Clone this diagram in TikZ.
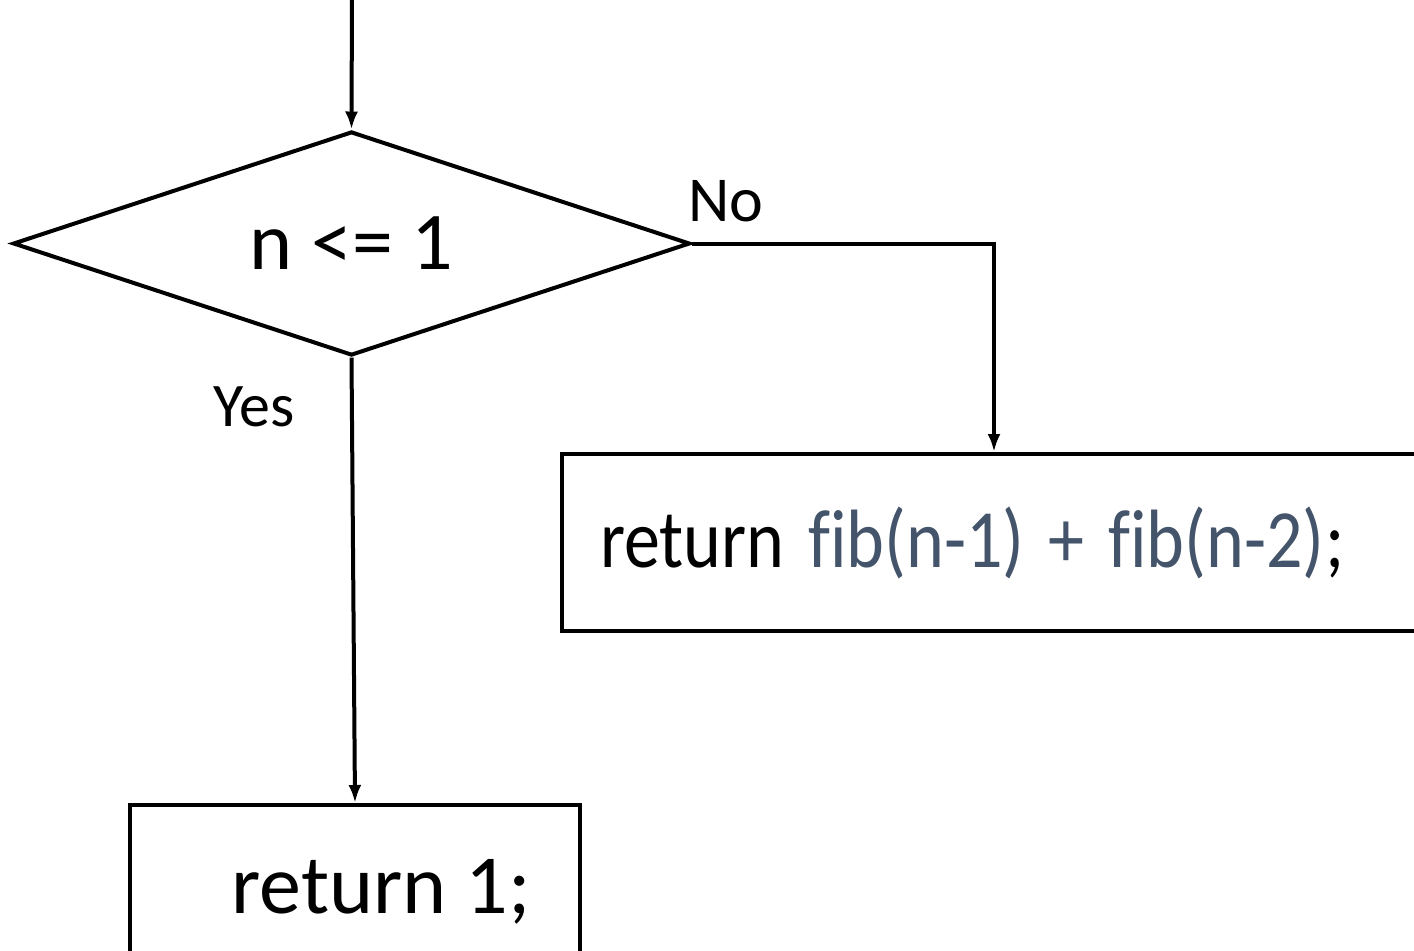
\documentclass[tikz,border=0pt]{standalone}
\usepackage{fontspec}
\setmainfont{Carlito}[Ligatures=NoCommon]
\usepackage{xcolor}
\usepackage{tikz}
\usetikzlibrary{positioning, shapes.geometric, arrows.meta}
\definecolor{fibtext}{RGB}{68, 84, 106}

\begin{document}
\begin{tikzpicture}[
        x=0.5pt, y=-0.5pt,
        flowline/.style={line width=2pt, -{Latex[length=9pt, width=6.5pt]}},
        decision/.style={diamond, draw, line width=2pt, aspect=3, inner sep=0pt, minimum width=338.5pt, minimum height=112pt, font=\fontsize{41}{48}\selectfont},
        process/.style={rectangle, draw, line width=2pt, anchor=north west}
    ]
        \clip (0,0) rectangle (1414,950);

        \coordinate (start) at (352,-10);
        \node (test) [decision] at (351.5,243.5) {n <= 1};

        \node (recurse) [process, minimum width=432pt, minimum height=88.5pt, inner xsep=19pt, text width=394pt, align=left, font=\fontsize{36}{42}\selectfont] at (560,452)
            {\scalebox{1}[1.15]{return \textcolor{fibtext}{fib(n-1) + fib(n-2)};}};
        \node (base) [process, minimum width=225pt, minimum height=87pt, font=\fontsize{42}{48}\selectfont] at (128,803)
            {\hspace*{26pt}return 1;};

        \draw[flowline] (start) -- (test.north);
        \draw[flowline] (test.east) -| (recurse.north);
        \draw[flowline] (test.south) -- (base.north);

        \node (no) [font=\fontsize{32}{38}\selectfont] at (726,201) {No};
        \node (yes) [font=\fontsize{31}{37}\selectfont] at (254,407) {Yes};
    \end{tikzpicture}
\end{document}
